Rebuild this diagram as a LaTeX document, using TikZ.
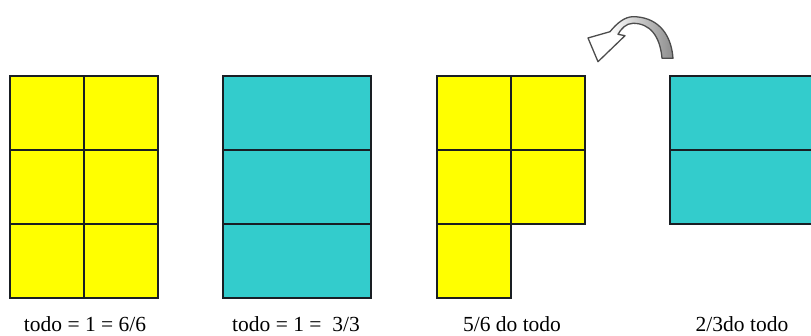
\documentclass[tikz,border=0pt]{standalone}
\usepackage{fontspec}
\setmainfont{Liberation Serif}
\usepackage{xcolor}
\definecolor{partyellow}{RGB}{255,255,0}
\definecolor{partcyan}{RGB}{51,204,204}
\definecolor{edgecolor}{RGB}{25,30,35}
\tikzset{
  ycell/.style  = {draw=edgecolor,line width=1.2pt,fill=partyellow},
  ccell/.style  = {draw=edgecolor,line width=1.2pt,fill=partcyan},
  lbl/.style    = {anchor=base,inner sep=0pt,
                   font=\fontsize{21.5}{26}\selectfont},
  turn/.style   = {draw=black!70,line width=1.3pt,line join=round},
}
\begin{document}
\begin{tikzpicture}[x=1pt,y=1pt]
  \useasboundingbox (0,0) rectangle (811,336);
  \clip (0,0) rectangle (811,336);
  % the whole, cut in sixths
  \foreach \i in {0,1}{
    \foreach \j in {0,1,2}{
      \draw[ycell] (10+\i*74,38+\j*74) rectangle +(74,74);
    }
  }
  % the whole, cut in thirds
  \foreach \j in {0,1,2}{
    \draw[ccell] (223,38+\j*74) rectangle +(148,74);
  }
  % five sixths
  \foreach \i/\j in {0/0,0/1,1/1,0/2,1/2}{
    \draw[ycell] (437+\i*74,38+\j*74) rectangle +(74,74);
  }
  % two thirds
  \foreach \j in {1,2}{
    \draw[ccell] (670,38+\j*74) rectangle +(148,74);
  }
  % turning arrow
  \shade[left color=white,right color=black!45]
        (610,304.3) .. controls (617,313) and (625,319.3) .. (633,319.3)
        .. controls (655,319.3) and (671,305) .. (673,277.7)
        -- (662,277.7) .. controls (660,300) and (650,312.7) .. (633,312.7)
        .. controls (626,312.7) and (621,307) .. (618,301.7) -- cycle;
  \draw[turn]
        (588,298) -- (610,304.3)
        .. controls (617,313) and (625,319.3) .. (633,319.3)
        .. controls (655,319.3) and (671,305) .. (673,277.7)
        -- (662,277.7) .. controls (660,300) and (650,312.7) .. (633,312.7)
        .. controls (626,312.7) and (621,307) .. (618,301.7)
        -- (625,300.3) -- (598,274.3) -- cycle;
  % labels
  \node[lbl] (lblsixths) at (85,4.5) {todo = 1 = 6/6};
  \node[lbl] (lblthirds) at (296,4.5) {todo = 1 =\ \ 3/3};
  \node[lbl] (lblfive)   at (512,4.5) {5/6 do todo};
  \node[lbl] (lbltwo)    at (742,4.5) {2/3do todo};
\end{tikzpicture}
\end{document}
